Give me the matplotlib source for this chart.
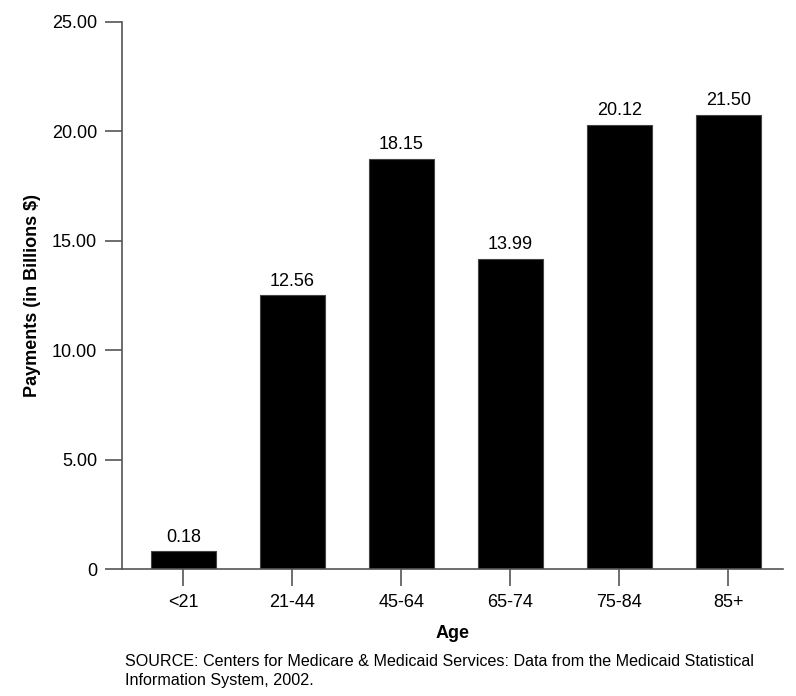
import matplotlib.pyplot as plt

plt.rcParams['font.family'] = ['Liberation Sans', 'DejaVu Sans']

# Data
ages = ['<21', '21-44', '45-64', '65-74', '75-84', '85+']
labels = ['0.18', '12.56', '18.15', '13.99', '20.12', '21.50']
# bar heights as drawn in the original (they do not match the labels exactly)
heights = [0.82, 12.52, 18.74, 14.17, 20.29, 20.75]
yticks = [0, 5, 10, 15, 20, 25]
ytick_labels = ['0', '5.00', '10.00', '15.00', '20.00', '25.00']

fig = plt.figure(figsize=(7.96, 6.96), dpi=100)
ax = fig.add_axes([122 / 796, 127 / 696, 661 / 796, 547 / 696])

x = range(len(ages))
bars = ax.bar(x, heights, width=0.6, color='black', edgecolor='#444444', linewidth=0.8)
for b, lab in zip(bars, labels):
    ax.annotate(lab, (b.get_x() + b.get_width() / 2, b.get_height()),
                xytext=(0, 4), textcoords='offset points',
                ha='center', va='bottom', fontsize=13)

ax.set_xlim(-0.564, 5.5)
ax.set_ylim(0, 25)
ax.set_xticks(list(x))
ax.set_xticklabels(ages)
ax.set_yticks(yticks)
ax.set_yticklabels(ytick_labels)

axis_col = '#555555'
for side in ['top', 'right']:
    ax.spines[side].set_visible(False)
for side in ['left', 'bottom']:
    ax.spines[side].set_color(axis_col)
    ax.spines[side].set_linewidth(1.2)
ax.tick_params(axis='both', length=12, width=1.2, color=axis_col,
               labelsize=13, pad=6)

ax.set_xlabel('Age', fontsize=13, fontweight='bold', labelpad=10)
ax.set_ylabel('Payments (in Billions $)', fontsize=13, fontweight='bold', labelpad=8)

fig.text(125 / 796, 1 - 654 / 696,
         'SOURCE: Centers for Medicare & Medicaid Services: Data from the Medicaid Statistical\n'
         'Information System, 2002.',
         fontsize=11.6, va='top', ha='left', linespacing=1.3)

fig.savefig('out.png', dpi=100)
